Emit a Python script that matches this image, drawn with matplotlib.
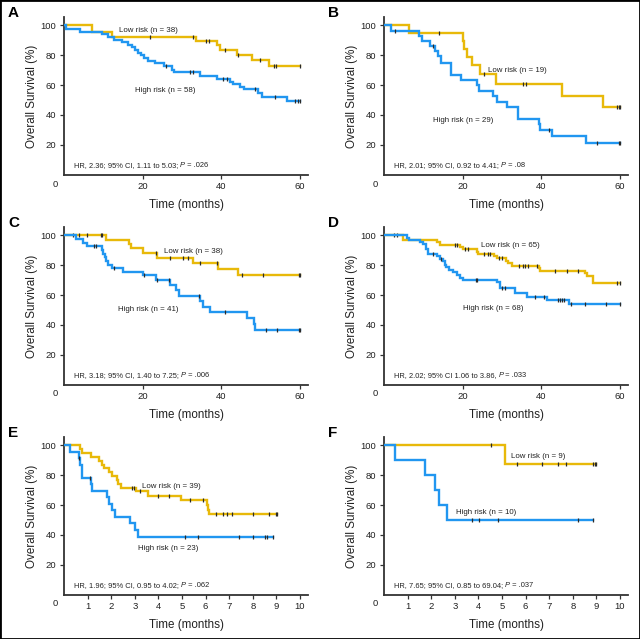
import numpy as np
import matplotlib
matplotlib.use("Agg")
import matplotlib.pyplot as plt
import matplotlib.transforms as mtransforms
from matplotlib.patches import Rectangle

plt.rcParams['font.family'] = ['Liberation Sans', 'DejaVu Sans']

YELLOW = '#E8B90A'
BLUE = '#2196F0'

# ---------------- data ----------------
panel_letters = ['A', 'B', 'C', 'D', 'E', 'F']

# Panel A
A_low_t = [7.1, 12.2, 33.5, 38.8, 39.7, 43.9, 47.7, 52.0]
A_low_s = [95.5, 92.6, 89.5, 86.8, 83.4, 80.1, 76.7, 72.7]
A_low_c = [21.9, 32.9, 36.1, 36.9, 41.0, 44.2, 49.7, 53.3, 53.9, 60.0]
A_high_t = [0.4, 4.1, 9.6, 11.2, 12.8, 14.8, 16.2, 17.2, 18.0, 18.8, 19.6, 20.4, 21.4, 23.0,
            25.3, 27.4, 27.9, 34.6, 38.8, 42.2, 43.0, 44.7, 45.8, 49.4, 50.3, 56.6]
A_high_s = [97.5, 95.7, 94.2, 92.3, 90.5, 88.8, 87.0, 85.3, 83.5, 81.8, 80.0, 78.3, 76.5, 74.5,
            72.5, 70.0, 68.5, 66.0, 63.8, 62.2, 61.0, 58.8, 57.3, 54.4, 51.7, 49.3]
A_high_c = [26.0, 31.9, 32.9, 40.3, 41.3, 48.6, 53.6, 58.7, 59.5, 60.0]

# Panel B
B_low_t = [6.4, 20.0, 20.4, 21.0, 22.3, 24.4, 28.4, 45.3, 55.6]
B_low_s = [94.7, 89.5, 84.2, 78.9, 73.7, 67.5, 60.7, 52.8, 45.5]
B_low_c = [14.1, 25.5, 35.2, 36.1, 59.2, 59.8, 60.0]
B_high_t = [1.8, 9.0, 9.7, 11.7, 13.0, 13.8, 14.4, 17.0, 19.5, 23.7, 24.2, 27.6, 28.6, 31.2,
            34.0, 39.3, 39.7, 42.7, 51.4]
B_high_s = [96.5, 93.1, 89.7, 86.2, 82.8, 79.3, 74.5, 67.0, 63.4, 59.8, 56.2, 52.5, 48.6, 45.0,
            37.2, 33.6, 29.8, 25.6, 21.3]
B_high_c = [2.8, 12.4, 41.9, 54.2, 59.8, 60.0]

# Panel C
C_low_t = [10.7, 16.4, 17.0, 20.0, 23.7, 32.7, 39.2, 44.3]
C_low_s = [97.3, 94.5, 91.5, 88.3, 85.2, 81.6, 77.5, 73.8]
C_low_c = [2.2, 3.9, 5.9, 9.3, 9.6, 23.4, 27.0, 30.2, 31.6, 34.6, 39.0, 45.3, 50.5, 59.8, 60.0]
C_high_t = [3.0, 4.9, 5.9, 9.6, 10.0, 10.4, 10.7, 11.3, 12.1, 14.9, 20.0, 23.4, 27.0, 28.5,
            29.3, 34.6, 35.3, 37.0, 46.4, 48.3, 48.6]
C_high_s = [97.6, 95.1, 92.7, 90.2, 87.8, 85.4, 82.9, 80.5, 78.5, 75.8, 73.2, 70.3, 67.0, 63.5,
            59.6, 56.0, 52.3, 48.5, 44.5, 40.5, 36.4]
C_high_c = [7.5, 8.1, 12.8, 20.3, 23.7, 26.6, 34.2, 40.9, 51.4, 54.1, 59.6, 60.0]

# Panel D
D_low_t = [4.9, 13.4, 14.2, 19.3, 20.2, 23.6, 24.0, 28.0, 28.6, 31.0, 31.4, 32.5, 39.5, 39.7,
           51.1, 51.5, 53.2]
D_low_s = [97.0, 95.4, 93.8, 92.3, 90.8, 89.2, 87.7, 86.2, 84.6, 83.0, 81.5, 79.8, 78.0, 76.3,
           74.6, 72.5, 67.8]
D_low_c = [2.5, 3.4, 18.0, 18.6, 20.6, 21.4, 25.3, 26.4, 27.0, 29.2, 30.0, 34.2, 35.2, 35.9,
           36.7, 38.8, 43.5, 46.4, 49.2, 59.2, 60.0]
D_high_t = [5.9, 6.4, 9.2, 10.0, 10.7, 11.3, 13.4, 14.2, 15.1, 15.5, 15.8, 16.4, 17.5, 18.5,
            19.2, 20.2, 28.6, 29.5, 33.3, 36.4, 41.5, 46.9]
D_high_s = [98.5, 97.0, 95.5, 94.0, 91.0, 87.7, 86.0, 84.4, 82.6, 80.5, 78.8, 77.0, 75.5, 73.5,
            71.8, 70.3, 68.5, 64.8, 61.3, 58.8, 56.5, 54.0]
D_high_c = [12.5, 14.6, 23.4, 23.7, 29.9, 30.8, 38.4, 40.7, 44.1, 44.8, 45.3, 45.8, 47.5, 51.2,
            56.4, 60.0]

# Panel E
E_low_t = [0.68, 0.75, 1.13, 1.5, 1.6, 1.69, 1.92, 2.02, 2.23, 2.3, 2.4, 3.05, 3.57, 4.96,
           6.05, 6.12, 6.16]
E_low_s = [97.4, 94.9, 92.3, 89.7, 87.2, 84.6, 82.0, 79.5, 76.9, 74.4, 71.8, 69.2, 66.3, 63.1,
           60.0, 57.0, 54.2]
E_low_c = [2.87, 2.97, 3.22, 3.99, 4.46, 5.34, 5.88, 6.44, 6.72, 6.89, 7.1, 7.99, 8.7, 8.98, 9.04]
E_high_t = [0.25, 0.62, 0.68, 0.75, 1.13, 1.17, 1.84, 1.92, 2.02, 2.16, 2.8, 3.0, 3.15]
E_high_s = [95.7, 91.3, 87.0, 78.3, 73.9, 69.6, 65.2, 60.9, 56.5, 52.2, 47.8, 43.5, 38.3]
E_high_c = [0.65, 1.1, 5.13, 5.66, 7.42, 8.0, 8.52, 8.6, 8.85]

# Panel F
F_low_t = [5.13]
F_low_s = [87.5]
F_low_c = [4.52, 5.62, 6.68, 7.39, 7.71, 8.84, 8.94, 9.0]
F_high_t = [0.47, 1.74, 2.16, 2.33, 2.66]
F_high_s = [90.0, 80.0, 70.0, 60.0, 50.0]
F_high_c = [3.72, 4.03, 4.85, 8.21, 8.85]

low_labels = ['Low risk (n = 38)', 'Low risk (n = 19)', 'Low risk (n = 38)',
              'Low risk (n = 65)', 'Low risk (n = 39)', 'Low risk (n = 9)']
high_labels = ['High risk (n = 58)', 'High risk (n = 29)', 'High risk (n = 41)',
               'High risk (n = 68)', 'High risk (n = 23)', 'High risk (n = 10)']
hr_pre = ['HR, 2.36; 95% CI, 1.11 to 5.03; ', 'HR, 2.01; 95% CI, 0.92 to 4.41; ',
          'HR, 3.18; 95% CI, 1.40 to 7.25; ', 'HR, 2.02; 95% CI 1.06 to 3.86, ',
          'HR, 1.96; 95% CI, 0.95 to 4.02; ', 'HR, 7.65; 95% CI, 0.85 to 69.04; ']
hr_post = [' = .026', ' = .08', ' = .006', ' = .033', ' = .062', ' = .037']

low_pos = [(14.0, 96.4), (26.3, 69.6), (25.5, 89.3), (24.6, 93.0), (3.29, 72.3), (5.37, 92.8)]
high_pos = [(18.0, 56.6), (12.4, 36.5), (13.8, 50.4), (20.0, 50.8), (3.12, 31.2), (3.04, 55.0)]

y_ticks = [20, 40, 60, 80, 100]
x_ticks_months = [20, 40, 60]
x_ticks_short = [1, 2, 3, 4, 5, 6, 7, 8, 9, 10]

panels = [
    (A_low_t, A_low_s, A_low_c, A_high_t, A_high_s, A_high_c),
    (B_low_t, B_low_s, B_low_c, B_high_t, B_high_s, B_high_c),
    (C_low_t, C_low_s, C_low_c, C_high_t, C_high_s, C_high_c),
    (D_low_t, D_low_s, D_low_c, D_high_t, D_high_s, D_high_c),
    (E_low_t, E_low_s, E_low_c, E_high_t, E_high_s, E_high_c),
    (F_low_t, F_low_s, F_low_c, F_high_t, F_high_s, F_high_c),
]
end_low = [60, 60, 60, 60, 9.04, 9.0]
end_high = [60, 60, 60, 60, 8.85, 8.85]

# ---------------- figure ----------------
W, H = 640, 639
fig = plt.figure(figsize=(W / 100, H / 100), dpi=100)
fig.patch.set_facecolor('white')
renderer = fig.canvas.get_renderer()


def surv_at(t, times, surv):
    t_arr = np.asarray(times)
    s_arr = np.asarray(surv)
    idx = np.searchsorted(t_arr, t, side='right') - 1
    return np.where(idx < 0, 100.0, s_arr[np.clip(idx, 0, None)])


def draw_curve(ax, times, surv, cens, tend, color, z):
    t = [0.0] + list(times) + [tend]
    s = [100.0] + list(surv) + [surv[-1]]
    ax.step(t, s, where='post', color=color, lw=1.7, zorder=z, solid_joinstyle='miter')
    c = np.asarray(cens)
    ax.plot(c, surv_at(c, times, surv), ls='none', marker='|', ms=3.2, mew=0.9,
            color='#2a2a2a', zorder=z + 1)


TXT = '#222222'
HR_FS = 5.4
ax_w = 244
ax_h = 157.2
for i, (lt, ls, lc, ht, hs, hc) in enumerate(panels):
    col = i % 2
    row = i // 2
    left_px = 64 + 320 * col
    bottom_px = 174.5 + 210 * row
    ax = fig.add_axes([left_px / W, 1 - bottom_px / H, ax_w / W, ax_h / H])
    short = i >= 4
    xmax = 10.34 if short else 62.0
    ax.set_xlim(0, xmax)
    ax.set_ylim(0, 105.5)
    for sp in ['top', 'right']:
        ax.spines[sp].set_visible(False)
    for sp in ['left', 'bottom']:
        ax.spines[sp].set_color('#333333')
        ax.spines[sp].set_linewidth(1.3)
    ax.set_yticks(y_ticks)
    ax.set_xticks(x_ticks_short if short else x_ticks_months)
    ax.tick_params(direction='out', length=3, width=0.9, color='#333333',
                   labelsize=6.8, pad=2.5, labelcolor=TXT)

    draw_curve(ax, lt, ls, lc, end_low[i], YELLOW, 3)
    draw_curve(ax, ht, hs, hc, end_high[i], BLUE, 4)

    ax.text(low_pos[i][0], low_pos[i][1], low_labels[i], fontsize=5.7, color=TXT,
            ha='left', va='center', zorder=6)
    ax.text(high_pos[i][0], high_pos[i][1], high_labels[i], fontsize=5.7, color=TXT,
            ha='left', va='center', zorder=6)

    # HR line: plain text, italic P, plain text on a shared baseline
    x0, y0 = xmax * 0.039, 5.2
    t1 = ax.text(x0, y0, hr_pre[i], fontsize=HR_FS, color=TXT, ha='left', va='baseline')
    w1 = t1.get_window_extent(renderer).width
    tr2 = mtransforms.offset_copy(ax.transData, fig=fig, x=w1, y=0, units='dots')
    t2 = ax.text(x0, y0, 'P', fontsize=HR_FS, style='italic', color=TXT, ha='left',
                 va='baseline', transform=tr2)
    w2 = t2.get_window_extent(renderer).width
    tr3 = mtransforms.offset_copy(ax.transData, fig=fig, x=w1 + w2, y=0, units='dots')
    ax.text(x0, y0, hr_post[i], fontsize=HR_FS, color=TXT, ha='left', va='baseline',
            transform=tr3)

    ax.text(-9 / ax_w, -9.5 / ax_h, '0', transform=ax.transAxes, fontsize=6.8,
            color=TXT, ha='center', va='center')
    ax.set_ylabel('Overall Survival (%)', fontsize=8.4, color=TXT, labelpad=2)
    ax.set_xlabel('Time (months)', fontsize=8.4, color=TXT, labelpad=6)

    fig.text((8 + 320 * col) / W, 1 - (13 + 210 * row) / H, panel_letters[i],
             fontsize=11, fontweight='bold', ha='left', va='center', color='black')

fig.patches.append(Rectangle((0, 0), 1, 1, transform=fig.transFigure, fill=False,
                             edgecolor='black', linewidth=2.0, zorder=10))

fig.savefig('out.png', dpi=100, facecolor='white')
